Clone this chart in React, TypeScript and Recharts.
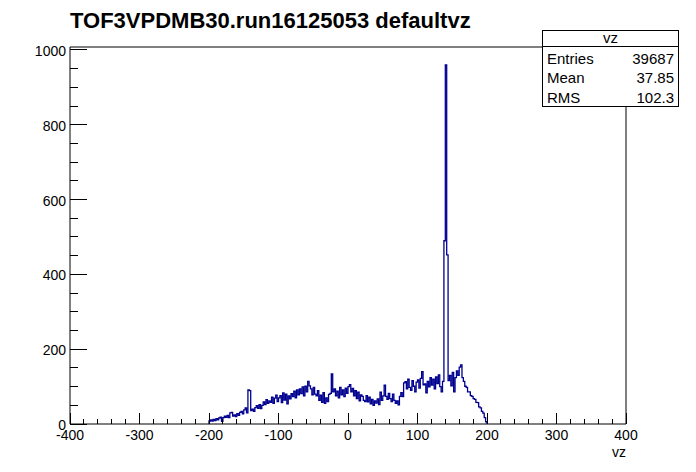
import React from "react";
import { ComposedChart, Line, XAxis, YAxis, ReferenceArea } from "recharts";

// vz histogram, 2-unit bins starting at -200
const binStart = -200;
const binWidth = 2;

const countsNeg = [
  8, 11, 8, 12, 9, 14, 11, 16, 18, 7,
  17, 21, 18, 23, 17, 30, 31, 21, 24, 20,
  28, 23, 31, 34, 27, 38, 43, 30, 91, 89,
  36, 40, 34, 44, 49, 42, 52, 41, 50, 59,
  52, 65, 55, 62, 58, 72, 55, 69, 77, 60,
  70, 76, 57, 83, 64, 80, 54, 75, 67, 81,
  73, 88, 70, 91, 78, 94, 81, 99, 75, 101,
  86, 114, 102, 94, 78, 98, 80, 75, 89, 63,
  77, 58, 84, 55, 70, 60, 79, 82, 134, 86,
  94, 75, 88, 70, 98, 78, 91, 73, 96, 82,
];

const countsPos = [
  100, 105, 86, 95, 75, 89, 68, 85, 62, 78,
  74, 63, 60, 76, 59, 72, 54, 66, 50, 62,
  56, 67, 52, 85, 63, 75, 104, 74, 66, 82,
  68, 60, 80, 63, 55, 62, 51, 74, 84, 73,
  110, 113, 94, 120, 98, 90, 116, 101, 86, 112,
  118, 96, 122, 140, 105, 107, 83, 114, 99, 124,
  104, 120, 94, 126, 108, 131, 100, 86, 114, 490,
  960, 452, 116, 130, 102, 138, 86, 124, 142, 130,
  152, 158, 124, 114, 101, 98, 86, 86, 76, 74,
  68, 66, 58, 57, 46, 43, 34, 29, 17, 6,
];

const xLabels = [-400, -300, -200, -100, 0, 100, 200, 300, 400];
const yLabels = [0, 200, 400, 600, 800, 1000];
const xMinorStep = 20;
const yMinorStep = 50;

const stats = [
  { name: "Entries", value: "39687" },
  { name: "Mean", value: "37.85" },
  { name: "RMS", value: "102.3" },
];

const counts = [...countsNeg, ...countsPos];
const histData: { x: number; y: number }[] = [{ x: binStart, y: 0 }];
counts.forEach((c, i) => histData.push({ x: binStart + i * binWidth, y: c }));
histData.push({ x: binStart + counts.length * binWidth, y: 0 });

const xTicks: number[] = [];
for (let v = xLabels[0]; v <= xLabels[xLabels.length - 1]; v += xMinorStep) xTicks.push(v);
const yTicks: number[] = [];
for (let v = yLabels[0]; v <= yLabels[yLabels.length - 1]; v += yMinorStep) yTicks.push(v);

const FONT = "'Liberation Sans', Arial, Helvetica, sans-serif";

const XTick = (props: any) => {
  const { x, y, payload } = props;
  const major = xLabels.includes(payload.value);
  return (
    <g>
      <line x1={x} x2={x} y1={y} y2={y - (major ? 11 : 5.5)} stroke="#000" />
      {major && (
        <text x={x} y={y + 16} textAnchor="middle" fontSize={14} fontFamily={FONT} fill="#000">
          {payload.value}
        </text>
      )}
    </g>
  );
};

const YTick = (props: any) => {
  const { x, y, payload } = props;
  const major = yLabels.includes(payload.value);
  return (
    <g>
      <line x1={x} x2={x + (major ? 16.5 : 8.3)} y1={y} y2={y} stroke="#000" />
      {major && (
        <text x={x - 4} y={y + 6} textAnchor="end" fontSize={14} fontFamily={FONT} fill="#000">
          {payload.value}
        </text>
      )}
    </g>
  );
};

export default function App() {
  return (
    <div style={{ position: "absolute", left: 0, top: 0, width: 696, height: 472, background: "#fff" }}>
      <style>{"svg line, svg rect { shape-rendering: crispEdges; }"}</style>
      <ComposedChart
        width={696}
        height={472}
        data={histData}
        margin={{ top: 47, right: 70, bottom: 0, left: 0 }}
      >
        <XAxis
          dataKey="x"
          type="number"
          domain={[-400, 400]}
          allowDataOverflow
          ticks={xTicks}
          interval={0}
          tick={<XTick />}
          tickLine={false}
          axisLine={false}
          tickSize={0}
          tickMargin={0}
          height={48}
        />
        <YAxis
          type="number"
          domain={[0, 1008]}
          allowDataOverflow
          ticks={yTicks}
          interval={0}
          tick={<YTick />}
          tickLine={false}
          axisLine={false}
          tickSize={0}
          tickMargin={0}
          width={70}
        />
        <ReferenceArea x1={-400} x2={400} y1={0} y2={1008} fill="none" stroke="#000" strokeWidth={1} fillOpacity={0} />
        <Line
          dataKey="y"
          type="stepAfter"
          stroke="#000090"
          strokeWidth={1.3}
          dot={false}
          isAnimationActive={false}
        />
      </ComposedChart>
      <svg width={696} height={472} style={{ position: "absolute", left: 0, top: 0, pointerEvents: "none" }}>
        <text x={70} y={28} fontSize={22} fontWeight="bold" fontFamily={FONT} fill="#000">
          TOF3VPDMB30.run16125053 defaultvz
        </text>
        <text x={626} y={457} textAnchor="end" fontSize={14} fontFamily={FONT} fill="#000">
          vz
        </text>
        <rect x={542.5} y={30.5} width={136} height={76} fill="#fff" stroke="#000" />
        <line x1={542.5} x2={678.5} y1={46.5} y2={46.5} stroke="#000" />
        <text x={610.5} y={43} textAnchor="middle" fontSize={15} fontFamily={FONT} fill="#000">
          vz
        </text>
        {stats.map((s, i) => (
          <g key={s.name}>
            <text x={547} y={63.5 + i * 19.5} fontSize={15} fontFamily={FONT} fill="#000">
              {s.name}
            </text>
            <text x={674} y={63.5 + i * 19.5} textAnchor="end" fontSize={15} fontFamily={FONT} fill="#000">
              {s.value}
            </text>
          </g>
        ))}
      </svg>
    </div>
  );
}
